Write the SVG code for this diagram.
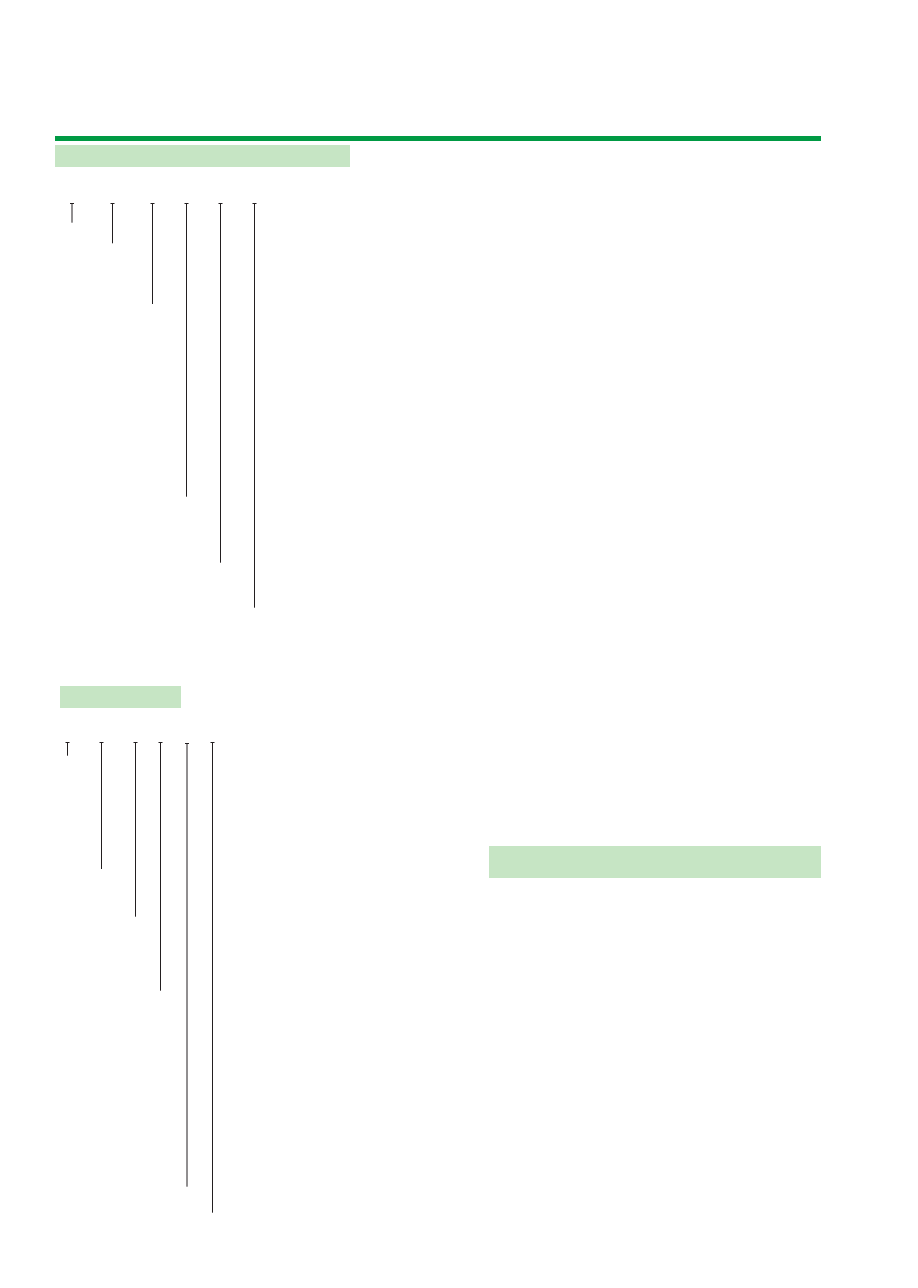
<svg xmlns="http://www.w3.org/2000/svg" width="918" height="1288" viewBox="0 0 918 1288">
<style>
.band{fill:#c6e5c4}
.rule{fill:#009a44}
.ln{stroke:#231f20;stroke-width:1;fill:none}
</style>
<rect width="918" height="1288" fill="#ffffff"/>
<g id="header-rule"><rect class="rule" x="55" y="136" width="766" height="5"/></g>
<g id="band-1"><rect class="band" x="55" y="145" width="295" height="22"/></g>
<g id="band-2"><rect class="band" x="60" y="686" width="121" height="22"/></g>
<g id="band-3"><rect class="band" x="489" y="846" width="332" height="32"/></g>
<g id="connectors">
<path class="ln" d="M70 203.5h4M72 203.5V222.7"/>
<path class="ln" d="M110.5 203.5h4M112.5 203.5V243.3"/>
<path class="ln" d="M150.5 203.5h4M152.5 203.5V304"/>
<path class="ln" d="M184.5 203.5h4M186.5 203.5V496.7"/>
<path class="ln" d="M218.5 203.5h4M220.5 203.5V562.7"/>
<path class="ln" d="M252.5 203.5h4M254.5 203.5V607.7"/>
<path class="ln" d="M65.5 742.5h4M67.5 742.5V755.7"/>
<path class="ln" d="M99.5 742.5h4M101.5 742.5V869"/>
<path class="ln" d="M133.5 742.5h4M135.5 742.5V916.7"/>
<path class="ln" d="M158.5 742.5h4M160.5 742.5V990.7"/>
<path class="ln" d="M185 743.5h4M187 743.5V1186.7"/>
<path class="ln" d="M210.5 742.5h4M212.5 742.5V1212.7"/>
</g>
</svg>
